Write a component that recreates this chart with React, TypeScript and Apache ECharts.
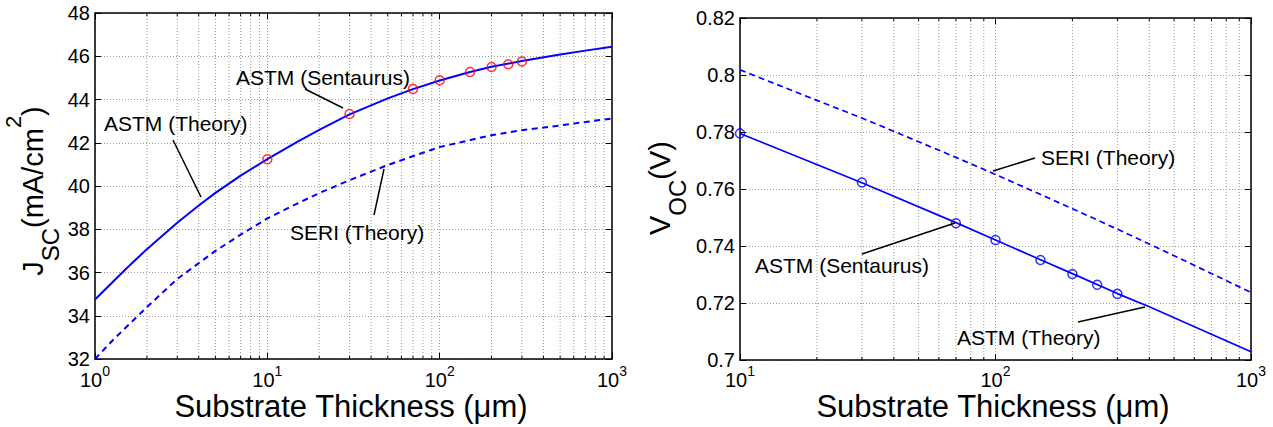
import React, { useEffect, useRef } from 'react';
import * as echarts from 'echarts';

const FONT = '"Liberation Sans", Arial, Helvetica, sans-serif';

// ---- Left panel: J_SC vs substrate thickness ----
const thicknessAstmJ = [1, 1.5, 2, 3, 4, 5, 7, 10, 15, 20, 30, 50, 70, 100, 150, 200, 300, 500, 700, 1000];
const jscAstmTheory = [34.75, 36.14, 37.08, 38.3, 39.1, 39.68, 40.48, 41.24, 42.05, 42.6, 43.31, 44.05, 44.48, 44.88, 45.27, 45.51, 45.78, 46.08, 46.26, 46.44];
const thicknessSeriJ = [1, 1.28, 2, 3, 5, 7, 10, 15, 20, 30, 50, 70, 100, 200, 300, 500, 700, 1000];
const jscSeriTheory = [32.0, 32.9, 34.4, 35.7, 37.0, 37.75, 38.5, 39.2, 39.67, 40.27, 40.97, 41.38, 41.8, 42.35, 42.58, 42.8, 42.96, 43.12];
const thicknessSentaurus = [10, 30, 70, 100, 150, 200, 250, 300];
const jscSentaurus = [41.24, 43.33, 44.49, 44.89, 45.27, 45.5, 45.63, 45.76];

// ---- Right panel: V_OC vs substrate thickness ----
const thicknessAstmV = [10, 30, 70, 100, 150, 200, 300, 400, 1000];
const vocAstmTheory = [0.7795, 0.7622, 0.7482, 0.7421, 0.7352, 0.7303, 0.7233, 0.7187, 0.7029];
const thicknessSeriV = [10, 20, 30, 50, 70, 100, 200, 300, 500, 1000];
const vocSeriTheory = [0.8018, 0.7911, 0.7849, 0.7766, 0.7711, 0.7651, 0.7531, 0.7459, 0.7366, 0.7237];
const vocSentaurus = [0.7795, 0.7623, 0.748, 0.7421, 0.7351, 0.7302, 0.7264, 0.7232];

// minor (log) grid positions
const minorTicksLeft = [2, 3, 4, 5, 6, 7, 8, 9, 20, 30, 40, 50, 60, 70, 80, 90, 200, 300, 400, 500, 600, 700, 800, 900];
const minorTicksRight = [20, 30, 40, 50, 60, 70, 80, 90, 200, 300, 400, 500, 600, 700, 800, 900];

const zip = (xs: number[], ys: number[]) => xs.map((x, i) => [x, ys[i]]);

const BLUE = '#0000ff';
const GRID_COLOR = '#9a9a9a';

function xAxisLog(gridIndex: number, min: number, max: number, position: string, main: boolean, margin: number) {
  return {
    type: 'log',
    logBase: 10,
    gridIndex,
    min,
    max,
    position,
    splitNumber: 3,
    axisLine: { show: true, onZero: false, lineStyle: { color: '#000', width: 1.5 } },
    axisTick: { show: true, inside: true, length: 6, lineStyle: { color: '#000', width: 1 } },
    axisLabel: main
      ? {
          show: true,
          margin,
          showMinLabel: true,
          showMaxLabel: true,
          hideOverlap: false,
          formatter: (v: number) => '{b|10}{s|' + Math.round(Math.log10(v)) + '}',
          rich: {
            b: { fontSize: 20, lineHeight: 32, fontFamily: FONT, color: '#000' },
            s: { fontSize: 14, lineHeight: 14, verticalAlign: 'top', fontFamily: FONT, color: '#000' },
          },
        }
      : { show: false },
    splitLine: main ? { show: true, lineStyle: { color: GRID_COLOR, width: 1, type: [1, 2] } } : { show: false },
    minorTick: { show: false },
    minorSplitLine: { show: false },
  };
}

function yAxisVal(gridIndex: number, min: number, max: number, interval: number, position: string, main: boolean) {
  return {
    type: 'value',
    gridIndex,
    min,
    max,
    interval,
    position,
    axisLine: { show: true, onZero: false, lineStyle: { color: '#000', width: 1.5 } },
    axisTick: { show: true, inside: true, length: 6, lineStyle: { color: '#000', width: 1 } },
    axisLabel: main
      ? {
          show: true,
          margin: 5,
          color: '#000',
          fontSize: 20,
          fontFamily: FONT,
          showMinLabel: true,
          showMaxLabel: true,
          hideOverlap: false,
          formatter: (v: number) => String(parseFloat(v.toFixed(3))),
        }
      : { show: false },
    splitLine: main ? { show: true, lineStyle: { color: GRID_COLOR, width: 1, type: [1, 2] } } : { show: false },
  };
}

function minorGridSeries(xAxisIndex: number, yAxisIndex: number, ticks: number[], yMin: number) {
  return {
    type: 'custom',
    xAxisIndex,
    yAxisIndex,
    silent: true,
    z: 1,
    data: ticks.map((t) => [t, yMin]),
    encode: { x: 0, y: 1 },
    renderItem: (params: any, api: any) => {
      const cs = params.coordSys;
      const x = api.coord([api.value(0), api.value(1)])[0];
      return {
        type: 'group',
        children: [
          {
            type: 'line',
            shape: { x1: x, y1: cs.y, x2: x, y2: cs.y + cs.height },
            style: { stroke: GRID_COLOR, lineWidth: 1, lineDash: [1, 2] },
          },
          {
            type: 'line',
            shape: { x1: x, y1: cs.y + cs.height, x2: x, y2: cs.y + cs.height - 3 },
            style: { stroke: '#000', lineWidth: 1 },
          },
          {
            type: 'line',
            shape: { x1: x, y1: cs.y, x2: x, y2: cs.y + 3 },
            style: { stroke: '#000', lineWidth: 1 },
          },
        ],
      };
    },
  };
}

function annotationText(text: string, x: number, y: number) {
  return {
    type: 'text',
    x,
    y,
    z: 100,
    style: {
      text,
      fontSize: 21,
      fontFamily: FONT,
      fill: '#000',
      align: 'left',
      verticalAlign: 'middle',
      textAlign: 'left',
      textVerticalAlign: 'middle',
    },
  };
}

function leader(x1: number, y1: number, x2: number, y2: number) {
  return {
    type: 'line',
    z: 100,
    shape: { x1, y1, x2, y2 },
    style: { stroke: '#000', lineWidth: 1.5 },
  };
}

function yTitle(x: number, y: number, main: string, sub: string, rest: string, sup: string, tail: string) {
  const text = '{m|' + main + '}{sub|' + sub + '}{m|' + rest + '}' + (sup ? '{sup|' + sup + '}' : '') + (tail ? '{m|' + tail + '}' : '');
  return {
    type: 'text',
    x,
    y,
    rotation: Math.PI / 2,
    z: 100,
    style: {
      text,
      fontFamily: FONT,
      fill: '#000',
      align: 'center',
      verticalAlign: 'middle',
      textAlign: 'center',
      textVerticalAlign: 'middle',
      rich: {
        m: { fontSize: 29, lineHeight: 60, fontFamily: FONT, fill: '#000', verticalAlign: 'middle' },
        sub: { fontSize: 24, lineHeight: 26, fontFamily: FONT, fill: '#000', verticalAlign: 'bottom' },
        sup: { fontSize: 22, lineHeight: 32, fontFamily: FONT, fill: '#000', verticalAlign: 'top' },
      },
    },
  };
}

function xTitle(x: number, y: number) {
  return {
    type: 'text',
    x,
    y,
    z: 100,
    style: {
      text: 'Substrate Thickness (μm)',
      fontSize: 31,
      fontFamily: FONT,
      fill: '#000',
      align: 'center',
      verticalAlign: 'middle',
      textAlign: 'center',
      textVerticalAlign: 'middle',
    },
  };
}

export default function App() {
  const ref = useRef<HTMLDivElement>(null);

  useEffect(() => {
    document.body.style.margin = '0';
    if (!ref.current) return;
    const chart = echarts.init(ref.current, null, { renderer: 'svg' });

    const option: any = {
      animation: false,
      backgroundColor: '#ffffff',
      textStyle: { fontFamily: FONT },
      grid: [
        { left: 95, top: 13, width: 517, height: 346, outerBoundsMode: 'none', containLabel: false },
        { left: 740, top: 18, width: 511, height: 342, outerBoundsMode: 'none', containLabel: false },
      ],
      xAxis: [
        xAxisLog(0, 1, 1000, 'bottom', true, 5.4),
        xAxisLog(0, 1, 1000, 'top', false, 0),
        xAxisLog(1, 10, 1000, 'bottom', true, 4),
        xAxisLog(1, 10, 1000, 'top', false, 0),
      ],
      yAxis: [
        yAxisVal(0, 32, 48, 2, 'left', true),
        yAxisVal(0, 32, 48, 2, 'right', false),
        yAxisVal(1, 0.7, 0.82, 0.02, 'left', true),
        yAxisVal(1, 0.7, 0.82, 0.02, 'right', false),
      ],
      series: [
        minorGridSeries(0, 0, minorTicksLeft, 32),
        minorGridSeries(2, 2, minorTicksRight, 0.7),
        {
          type: 'line',
          name: 'ASTM (Theory)',
          xAxisIndex: 0,
          yAxisIndex: 0,
          data: zip(thicknessAstmJ, jscAstmTheory),
          symbol: 'none',
          smooth: false,
          z: 3,
          lineStyle: { color: BLUE, width: 2 },
        },
        {
          type: 'line',
          name: 'SERI (Theory)',
          xAxisIndex: 0,
          yAxisIndex: 0,
          data: zip(thicknessSeriJ, jscSeriTheory),
          symbol: 'none',
          smooth: false,
          z: 3,
          lineStyle: { color: BLUE, width: 2, type: [6, 4.5] },
        },
        {
          type: 'scatter',
          name: 'ASTM (Sentaurus)',
          xAxisIndex: 0,
          yAxisIndex: 0,
          data: zip(thicknessSentaurus, jscSentaurus),
          symbol: 'circle',
          symbolSize: 9,
          clip: false,
          z: 4,
          itemStyle: { color: 'rgba(0,0,0,0)', borderColor: '#ff0000', borderWidth: 1.5 },
        },
        {
          type: 'line',
          name: 'ASTM (Theory) V',
          xAxisIndex: 2,
          yAxisIndex: 2,
          data: zip(thicknessAstmV, vocAstmTheory),
          symbol: 'none',
          smooth: false,
          z: 3,
          lineStyle: { color: BLUE, width: 1.7 },
        },
        {
          type: 'line',
          name: 'SERI (Theory) V',
          xAxisIndex: 2,
          yAxisIndex: 2,
          data: zip(thicknessSeriV, vocSeriTheory),
          symbol: 'none',
          smooth: false,
          z: 3,
          lineStyle: { color: BLUE, width: 1.7, type: [6, 4] },
        },
        {
          type: 'scatter',
          name: 'ASTM (Sentaurus) V',
          xAxisIndex: 2,
          yAxisIndex: 2,
          data: zip(thicknessSentaurus, vocSentaurus),
          symbol: 'circle',
          symbolSize: 9,
          clip: false,
          z: 4,
          itemStyle: { color: 'rgba(0,0,0,0)', borderColor: BLUE, borderWidth: 1.5 },
        },
      ],
      graphic: [
        // axis titles
        yTitle(32.6, 191, 'J', 'SC', '(mA/cm', '2', ')'),
        yTitle(659.6, 188, 'V', 'OC', '(V)', '', ''),
        xTitle(351, 406.5),
        xTitle(993, 406.5),
        // left annotations
        annotationText('ASTM (Sentaurus)', 236, 77),
        leader(305, 89, 343, 108),
        annotationText('ASTM (Theory)', 104, 123),
        leader(173, 140, 201, 197),
        annotationText('SERI (Theory)', 290, 232),
        leader(384, 169, 374, 215),
        // right annotations
        annotationText('SERI (Theory)', 1041, 157),
        leader(993, 171, 1035, 158),
        annotationText('ASTM (Sentaurus)', 755, 265),
        leader(862, 254, 955, 223),
        annotationText('ASTM (Theory)', 957, 337),
        leader(1078, 322, 1145, 307),
      ],
    };

    chart.setOption(option);
    return () => chart.dispose();
  }, []);

  return (
    <div
      ref={ref}
      style={{ position: 'absolute', left: 0, top: 0, width: 1273, height: 427, background: '#fff' }}
    />
  );
}
